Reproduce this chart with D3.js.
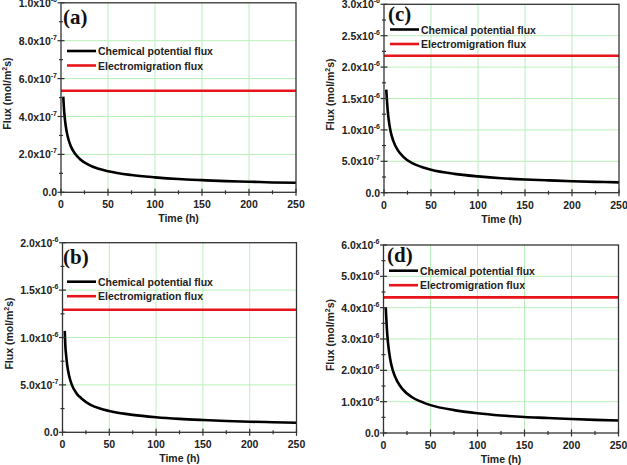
<!DOCTYPE html>
<html>
<head>
<meta charset="utf-8">
<script src="https://cdn.jsdelivr.net/npm/d3@7"></script>
<style>
  body { margin: 0; background: #fff; }
  svg { font-family: Arial, "Liberation Sans", sans-serif; }
</style>
</head>
<body>
<div id="chart"></div>
<script>
// DATA
const times = [2.4, 3, 4, 5, 7, 10, 15, 20, 30, 40, 50, 75, 100, 125, 150, 175, 200, 225, 250];

const chemA = [5.05e-7, 4.53e-7, 3.93e-7, 3.51e-7, 2.97e-7, 2.48e-7, 2.03e-7, 1.76e-7, 1.43e-7, 1.24e-7,
  1.11e-7, 0.91e-7, 0.79e-7, 0.70e-7, 0.64e-7, 0.59e-7, 0.56e-7, 0.52e-7, 0.50e-7];
const chemB = [1.07e-6, 0.92e-6, 0.80e-6, 0.71e-6, 0.60e-6, 0.50e-6, 0.41e-6, 0.36e-6, 0.29e-6, 0.25e-6,
  0.225e-6, 0.184e-6, 0.159e-6, 0.142e-6, 0.130e-6, 0.120e-6, 0.112e-6, 0.106e-6, 0.100e-6];
const chemC = [1.64e-6, 1.50e-6, 1.30e-6, 1.16e-6, 0.98e-6, 0.82e-6, 0.67e-6, 0.58e-6, 0.47e-6, 0.41e-6,
  0.366e-6, 0.30e-6, 0.26e-6, 0.23e-6, 0.21e-6, 0.196e-6, 0.183e-6, 0.173e-6, 0.164e-6];
const chemD = [4.0e-6, 3.64e-6, 3.15e-6, 2.82e-6, 2.38e-6, 1.99e-6, 1.63e-6, 1.41e-6, 1.15e-6, 1.00e-6,
  0.89e-6, 0.73e-6, 0.63e-6, 0.56e-6, 0.51e-6, 0.48e-6, 0.445e-6, 0.42e-6, 0.40e-6];

const emA = 5.36e-7;
const emB = 1.293e-6;
const emC = 2.18e-6;
const emD = 4.33e-6;

const xTicks = [0, 50, 100, 150, 200, 250];
const yTicksA = [0, 2e-7, 4e-7, 6e-7, 8e-7, 1e-6];
const yTicksB = [0, 5e-7, 1e-6, 1.5e-6, 2e-6];
const yTicksC = [0, 5e-7, 1e-6, 1.5e-6, 2e-6, 2.5e-6, 3e-6];
const yTicksD = [0, 1e-6, 2e-6, 3e-6, 4e-6, 5e-6, 6e-6];

const seriesNames = ['Chemical potential flux', 'Electromigration flux'];

// LAYOUT
const W = 627, H = 465;
const panels = [
  { label: '(a)', chem: chemA, em: emA, yTicks: yTicksA, yMax: 1e-6, x0: 61, x1: 296, y0: 192.3, y1: 2.8,
    legX: 67, legY: 51, tagX: 63, tagY: 24 },
  { label: '(c)', chem: chemC, em: emC, yTicks: yTicksC, yMax: 3e-6, x0: 384, x1: 619, y0: 192.7, y1: 4.3,
    legX: 390, legY: 29.5, tagX: 388, tagY: 21 },
  { label: '(b)', chem: chemB, em: emB, yTicks: yTicksB, yMax: 2e-6, x0: 62.5, x1: 296.5, y0: 432.3, y1: 242.7,
    legX: 67, legY: 281.7, tagX: 63, tagY: 264 },
  { label: '(d)', chem: chemD, em: emD, yTicks: yTicksD, yMax: 6e-6, x0: 383.5, x1: 618.5, y0: 433, y1: 245,
    legX: 389, legY: 270.7, tagX: 387, tagY: 262 }
];

const svg = d3.select('#chart').append('svg')
  .attr('width', W).attr('height', H);

const frameColor = '#333';
const gridColor = '#b8f0b8';

// tick label like 8.0x10^-7
function tickLabel(sel, v) {
  if (v === 0) { sel.text('0.0'); return; }
  const exp = Math.floor(Math.log10(v) + 1e-9);
  const mant = v / Math.pow(10, exp);
  sel.append('tspan').text(mant.toFixed(1) + 'x10');
  sel.append('tspan').attr('dy', -5).attr('font-size', 7).text(exp);
}

panels.forEach(p => {
  const x = d3.scaleLinear().domain([0, 250]).range([p.x0, p.x1]);
  const y = d3.scaleLinear().domain([0, p.yMax]).range([p.y0, p.y1]);
  const g = svg.append('g');

  // GRID
  g.append('g').selectAll('line').data(xTicks.slice(1, -1)).join('line')
    .attr('x1', d => x(d)).attr('x2', d => x(d))
    .attr('y1', p.y0).attr('y2', p.y1)
    .attr('stroke', gridColor).attr('stroke-width', 1);
  g.append('g').selectAll('line').data(p.yTicks.slice(1, -1)).join('line')
    .attr('x1', p.x0).attr('x2', p.x1)
    .attr('y1', d => y(d)).attr('y2', d => y(d))
    .attr('stroke', gridColor).attr('stroke-width', 1);

  // LINES
  g.append('line')
    .attr('x1', x(0)).attr('x2', x(250))
    .attr('y1', y(p.em)).attr('y2', y(p.em))
    .attr('stroke', '#e8141c').attr('stroke-width', 2.6);

  const pts = times.map((t, i) => [t, p.chem[i]]);
  g.append('path')
    .datum(pts)
    .attr('fill', 'none')
    .attr('stroke', '#000')
    .attr('stroke-width', 2.6)
    .attr('d', d3.line().x(d => x(d[0])).y(d => y(d[1])).curve(d3.curveMonotoneX));

  // FRAME
  g.append('rect')
    .attr('x', p.x0).attr('y', p.y1)
    .attr('width', p.x1 - p.x0).attr('height', p.y0 - p.y1)
    .attr('fill', 'none').attr('stroke', frameColor).attr('stroke-width', 1.3);

  // X AXIS ticks (major + minor crossing the axis)
  const xMinor = d3.range(25, 250, 50);
  g.append('g').selectAll('line').data(xTicks).join('line')
    .attr('x1', d => x(d)).attr('x2', d => x(d))
    .attr('y1', p.y0 - 3.5).attr('y2', p.y0 + 3.5)
    .attr('stroke', frameColor).attr('stroke-width', 1.2);
  g.append('g').selectAll('line').data(xMinor).join('line')
    .attr('x1', d => x(d)).attr('x2', d => x(d))
    .attr('y1', p.y0 - 2).attr('y2', p.y0 + 2)
    .attr('stroke', frameColor).attr('stroke-width', 1.2);
  g.append('g').selectAll('text').data(xTicks).join('text')
    .attr('x', d => x(d)).attr('y', p.y0 + 16)
    .attr('text-anchor', 'middle')
    .attr('font-size', 10.5).attr('font-weight', 'bold').attr('fill', '#222')
    .text(d => d);
  g.append('text')
    .attr('x', (p.x0 + p.x1) / 2).attr('y', p.y0 + 30)
    .attr('text-anchor', 'middle')
    .attr('font-size', 10.5).attr('font-weight', 'bold').attr('fill', '#222')
    .text('Time (h)');

  // Y AXIS ticks
  const step = p.yTicks[1] - p.yTicks[0];
  const yMinor = p.yTicks.slice(0, -1).map(v => v + step / 2);
  g.append('g').selectAll('line').data(p.yTicks).join('line')
    .attr('x1', p.x0 - 3.5).attr('x2', p.x0 + 3.5)
    .attr('y1', d => y(d)).attr('y2', d => y(d))
    .attr('stroke', frameColor).attr('stroke-width', 1.2);
  g.append('g').selectAll('line').data(yMinor).join('line')
    .attr('x1', p.x0 - 2).attr('x2', p.x0 + 2)
    .attr('y1', d => y(d)).attr('y2', d => y(d))
    .attr('stroke', frameColor).attr('stroke-width', 1.2);
  g.append('g').selectAll('text').data(p.yTicks).join('text')
    .attr('x', p.x0 - 4).attr('y', d => y(d) + 4)
    .attr('text-anchor', 'end')
    .attr('font-size', 10.5).attr('font-weight', 'bold').attr('fill', '#222')
    .each(function (d) { tickLabel(d3.select(this), d); });

  // Y TITLE
  const yt = g.append('text')
    .attr('transform', `translate(${p.x0 - 50},${(p.y0 + p.y1) / 2 - 4})rotate(-90)`)
    .attr('text-anchor', 'middle')
    .attr('font-size', 10.5).attr('font-weight', 'bold').attr('fill', '#222');
  yt.append('tspan').text('Flux (mol/m');
  yt.append('tspan').attr('dy', -4).attr('font-size', 7).text('2');
  yt.append('tspan').attr('dy', 4).text('s)');

  // PANEL TAG
  g.append('text')
    .attr('x', p.tagX).attr('y', p.tagY)
    .attr('font-family', '"Liberation Serif", "Times New Roman", serif')
    .attr('font-size', 21).attr('font-weight', 'bold').attr('fill', '#111')
    .text(p.label);

  // LEGEND
  const colors = ['#000', '#e8141c'];
  seriesNames.forEach((name, i) => {
    const ly = p.legY + i * 14.5;
    g.append('line')
      .attr('x1', p.legX).attr('x2', p.legX + 29)
      .attr('y1', ly).attr('y2', ly)
      .attr('stroke', colors[i]).attr('stroke-width', 2.6);
    g.append('text')
      .attr('x', p.legX + 31).attr('y', ly + 4)
      .attr('font-size', 10.5).attr('font-weight', 'bold').attr('fill', '#222')
      .text(name);
  });
});
</script>
</body>
</html>
